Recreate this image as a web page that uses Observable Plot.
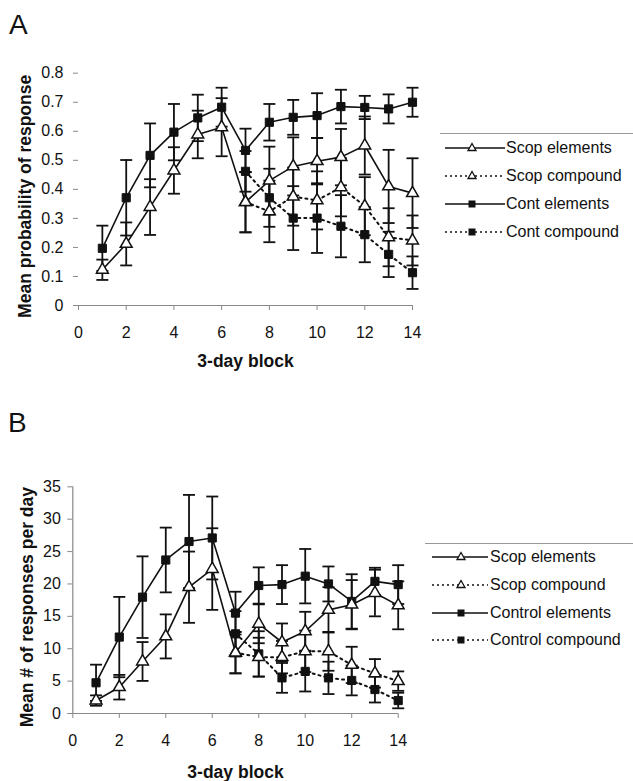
<!DOCTYPE html>
<html>
<head>
<meta charset="utf-8">
<script src="https://cdn.jsdelivr.net/npm/d3@7"></script>
<script src="https://cdn.jsdelivr.net/npm/@observablehq/plot@0.6"></script>
<style>
  html, body { margin: 0; padding: 0; background: #fff; }
  #root { position: relative; width: 633px; height: 781px; background: #fff; font-family: "Liberation Sans", Arial, sans-serif; color: #111; overflow: hidden; }
  .panel { position: absolute; left: 0; }
  .letter { position: absolute; font-size: 28px; line-height: 28px; color: #111; }
  .legline { position: absolute; border-top: 1.5px solid #999; height: 0; }
  .legrow { position: absolute; display: flex; align-items: center; height: 20px; font-size: 16px; line-height: 20px; white-space: nowrap; color: #111; }
  .legrow svg { display: block; flex: none; }
</style>
</head>
<body>
<div id="root"></div>
<script>
// ---------- data ----------
const blocks = [1, 2, 3, 4, 5, 6, 7, 8, 9, 10, 11, 12, 13, 14];
const compoundBlocks = [7, 8, 9, 10, 11, 12, 13, 14];
const xTicks = [0, 2, 4, 6, 8, 10, 12, 14];

// Panel A: mean probability of response
const scopElementsA   = [0.123, 0.212, 0.339, 0.465, 0.589, 0.614, 0.356, 0.430, 0.479, 0.497, 0.511, 0.551, 0.410, 0.387];
const scopElementsA_se= [0.035, 0.074, 0.096, 0.080, 0.082, 0.100, 0.104, 0.117, 0.100, 0.080, 0.097, 0.100, 0.126, 0.120];
const contElementsA   = [0.197, 0.371, 0.517, 0.597, 0.646, 0.683, 0.534, 0.631, 0.648, 0.654, 0.685, 0.682, 0.677, 0.700];
const contElementsA_se= [0.078, 0.130, 0.110, 0.097, 0.080, 0.067, 0.075, 0.063, 0.060, 0.077, 0.058, 0.040, 0.050, 0.050];
const scopCompoundA   = [0.356, 0.324, 0.375, 0.362, 0.407, 0.342, 0.235, 0.224];
const scopCompoundA_se= [0.104, 0.106, 0.100, 0.100, 0.100, 0.100, 0.100, 0.086];
const contCompoundA   = [0.462, 0.371, 0.301, 0.301, 0.273, 0.244, 0.176, 0.113];
const contCompoundA_se= [0.070, 0.100, 0.110, 0.120, 0.107, 0.095, 0.078, 0.056];
const yTicksA = [0, 0.1, 0.2, 0.3, 0.4, 0.5, 0.6, 0.7, 0.8];
const legendA = ["Scop elements", "Scop compound", "Cont elements", "Cont compound"];

// Panel B: mean # of responses per day
const scopElementsB   = [2.0, 4.06, 8.03, 11.9, 19.5, 22.3, 9.4, 13.85, 11.0, 12.7, 16.0, 16.8, 18.6, 16.7];
const scopElementsB_se= [0.8, 1.9, 3.0, 3.4, 5.5, 6.3, 3.2, 3.0, 2.9, 3.0, 3.5, 3.8, 3.6, 3.7];
const contElementsB   = [4.74, 11.8, 17.96, 23.7, 26.55, 27.1, 15.5, 19.76, 19.9, 21.2, 20.0, 17.3, 20.4, 19.9];
const contElementsB_se= [2.8, 6.2, 6.3, 5.0, 7.2, 6.4, 3.3, 2.8, 3.0, 4.2, 2.7, 4.2, 2.1, 3.0];
const scopCompoundB   = [9.4, 8.7, 8.7, 9.6, 9.6, 7.5, 6.2, 5.0];
const scopCompoundB_se= [3.2, 3.0, 2.5, 3.2, 3.0, 2.8, 2.2, 1.5];
const contCompoundB   = [12.3, 9.2, 5.5, 6.5, 5.5, 5.1, 3.7, 2.0];
const contCompoundB_se= [3.5, 3.5, 2.3, 3.1, 2.5, 2.3, 2.0, 1.2];
const yTicksB = [0, 5, 10, 15, 20, 25, 30, 35];
const legendB = ["Scop elements", "Scop compound", "Control elements", "Control compound"];

// ---------- helpers ----------
function rows(name, xs, vals, ses) {
  return xs.map((x, i) => ({series: name, block: x, value: vals[i], se: ses[i]}));
}
const capSymbol = {
  draw(ctx, size) { const w = Math.sqrt(size / Math.PI); ctx.moveTo(-w, 0); ctx.lineTo(w, 0); }
};
const FONT = "'Liberation Sans', Arial, Helvetica, sans-serif";

function panel(cfg) {
  const scopEl = rows("se", blocks, cfg.scopEl, cfg.scopElSe);
  const contEl = rows("ce", blocks, cfg.contEl, cfg.contElSe);
  const scopCp = rows("sc", compoundBlocks, cfg.scopCp, cfg.scopCpSe);
  const contCp = rows("cc", compoundBlocks, cfg.contCp, cfg.contCpSe);
  const all = [...scopEl, ...contEl, ...scopCp, ...contCp];
  const tri = [...scopEl, ...scopCp];
  const sq = [...contEl, ...contCp];
  const marks = [
    Plot.axisX({ticks: xTicks, tickSize: 5, tickPadding: 16, label: null, stroke: "#888", fill: "#111", fontSize: 16}),
    Plot.axisY({ticks: cfg.yTicks, tickSize: 5, tickPadding: cfg.yPad, label: null, stroke: "#888", fill: "#111", fontSize: 16, tickFormat: cfg.fmt}),
    Plot.ruleY([0], {stroke: "#888", strokeWidth: 1.2, insetLeft: cfg.axisInset}),
  ];
  if (cfg.yLine) marks.push(Plot.ruleX([0], {stroke: "#888", strokeWidth: 1.2}));
  marks.push(
    Plot.ruleX(all, {x: "block", y1: d => d.value - d.se, y2: d => d.value + d.se, stroke: "#111", strokeWidth: 1.8}),
    Plot.dot(all, {x: "block", y: d => d.value + d.se, symbol: capSymbol, r: 6, fill: "none", stroke: "#111", strokeWidth: 1.8}),
    Plot.dot(all, {x: "block", y: d => d.value - d.se, symbol: capSymbol, r: 6, fill: "none", stroke: "#111", strokeWidth: 1.8}),
    Plot.line(scopCp, {x: "block", y: "value", stroke: "#111", strokeWidth: 2, strokeDasharray: "2,4"}),
    Plot.line(contCp, {x: "block", y: "value", stroke: "#111", strokeWidth: 2, strokeDasharray: "2,4"}),
    Plot.line(scopEl, {x: "block", y: "value", stroke: "#111", strokeWidth: 1.6}),
    Plot.line(contEl, {x: "block", y: "value", stroke: "#111", strokeWidth: 1.6}),
    Plot.dot(sq, {x: "block", y: "value", symbol: "square", r: 4.6, fill: "#111", stroke: "#111", strokeWidth: 1}),
    Plot.dot(tri, {x: "block", y: "value", symbol: "triangle", r: 4.4, fill: "white", stroke: "#111", strokeWidth: 1.5}),
    Plot.text([cfg.xLabel], {text: d => d, frameAnchor: "bottom", dy: cfg.xLabelDy, textAnchor: "middle", lineAnchor: "middle", fontWeight: "bold", fontSize: 17.5, fill: "#111"}),
    Plot.text([cfg.yLabel], {text: d => d, frameAnchor: "left", rotate: -90, dx: cfg.yLabelDx, dy: cfg.yLabelDy, textAnchor: "middle", lineAnchor: "middle", fontWeight: "bold", fontSize: 17.5, fill: "#111"})
  );
  return Plot.plot({
    width: 633, height: cfg.height,
    marginTop: cfg.mt, marginBottom: cfg.mb, marginLeft: cfg.ml, marginRight: cfg.mr,
    x: {domain: [0, 14]},
    y: {domain: cfg.yDomain},
    style: {fontFamily: FONT, fontSize: "16px", color: "#111", background: "transparent", overflow: "visible"},
    marks
  });
}

const root = document.getElementById("root");

function place(el, top) {
  const wrap = document.createElement("div");
  wrap.className = "panel";
  wrap.style.top = top + "px";
  wrap.appendChild(el);
  root.appendChild(wrap);
}

place(panel({
  height: 390, mt: 72.7, mb: 85, ml: 78, mr: 221,
  yDomain: [0, 0.8], yTicks: yTicksA, yPad: 10, axisInset: -5, yLine: false,
  fmt: d => d === 0 ? "0" : d3.format(".1f")(d),
  scopEl: scopElementsA, scopElSe: scopElementsA_se,
  contEl: contElementsA, contElSe: contElementsA_se,
  scopCp: scopCompoundA, scopCpSe: scopCompoundA_se,
  contCp: contCompoundA, contCpSe: contCompoundA_se,
  xLabel: "3-day block", xLabelDy: 56,
  yLabel: "Mean probability of response", yLabelDx: -53, yLabelDy: 7
}), 0);

place(panel({
  height: 391, mt: 96.3, mb: 68, ml: 72.3, mr: 235.3,
  yDomain: [0, 35], yTicks: yTicksB, yPad: 7, axisInset: 0, yLine: true,
  fmt: d => String(d),
  scopEl: scopElementsB, scopElSe: scopElementsB_se,
  contEl: contElementsB, contElSe: contElementsB_se,
  scopCp: scopCompoundB, scopCpSe: scopCompoundB_se,
  contCp: contCompoundB, contCpSe: contCompoundB_se,
  xLabel: "3-day block", xLabelDy: 59,
  yLabel: "Mean # of responses per day", yLabelDx: -45, yLabelDy: 7
}), 390);

// ---------- panel letters ----------
function letter(t, left, top) {
  const d = document.createElement("div");
  d.className = "letter"; d.textContent = t;
  d.style.left = left + "px"; d.style.top = top + "px";
  root.appendChild(d);
}
letter("A", 9, 11);
letter("B", 8, 409);

// ---------- legends ----------
const styles = [
  {dash: null, sym: "tri"}, {dash: "2,3", sym: "tri"},
  {dash: null, sym: "sq"}, {dash: "2,3", sym: "sq"}
];
function legend(labels, o) {
  const line = document.createElement("div");
  line.className = "legline";
  line.style.left = o.lineLeft + "px"; line.style.top = o.lineTop + "px";
  line.style.width = (633 - o.lineLeft) + "px";
  root.appendChild(line);
  labels.forEach((lab, i) => {
    const s = styles[i];
    const row = document.createElement("div");
    row.className = "legrow";
    row.style.left = o.left + "px";
    row.style.top = (o.first + i * o.step - 10) + "px";
    const w = o.swatch, mx = o.mx;
    const marker = s.sym === "tri"
      ? `<path d="M${mx},5.5 L${mx - 4},12.5 L${mx + 4},12.5 Z" fill="white" stroke="#111" stroke-width="1.3"/>`
      : `<rect x="${mx - 3.5}" y="6.5" width="7" height="7" fill="#111"/>`;
    row.innerHTML =
      `<svg width="${w}" height="20"><line x1="0" x2="${w}" y1="10" y2="10" stroke="#111" stroke-width="${s.dash ? 1.6 : 1.5}" ${s.dash ? `stroke-dasharray="${s.dash}"` : ""}/>${marker}</svg>` +
      `<span style="margin-left:${o.gap}px">${lab}</span>`;
    root.appendChild(row);
  });
}
legend(legendA, {lineLeft: 440, lineTop: 133, left: 445, swatch: 60, mx: 27, gap: 1, first: 148.3, step: 27.8});
legend(legendB, {lineLeft: 425, lineTop: 543, left: 432, swatch: 56, mx: 29, gap: 2, first: 557.3, step: 27.6});
</script>
</body>
</html>
